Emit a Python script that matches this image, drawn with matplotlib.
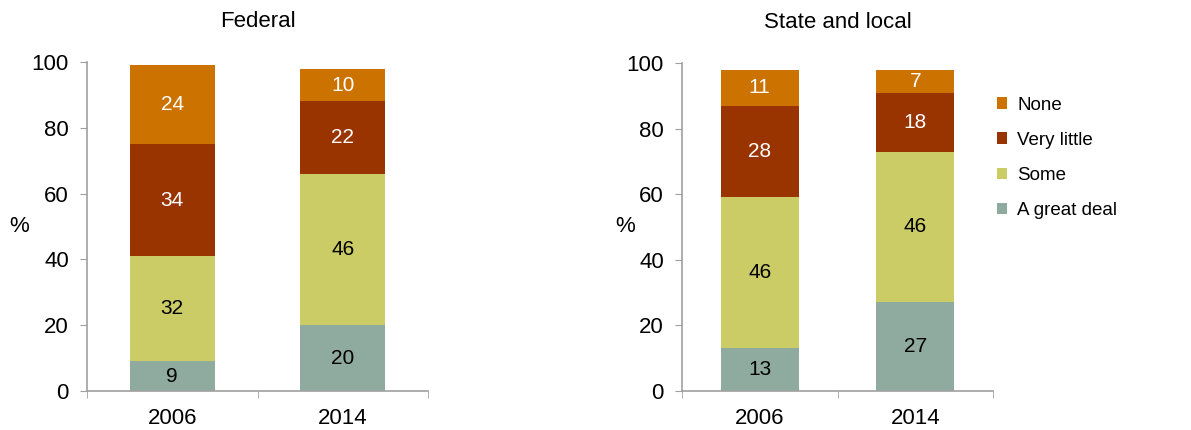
import matplotlib
matplotlib.use("Agg")
import matplotlib.pyplot as plt
import numpy as np
from matplotlib.patches import Patch

years = ["2006", "2014"]
categories = ["A great deal", "Some", "Very little", "None"]
federal = {
    "A great deal": [9, 20],
    "Some": [32, 46],
    "Very little": [34, 22],
    "None": [24, 10],
}
state_local = {
    "A great deal": [13, 27],
    "Some": [46, 46],
    "Very little": [28, 18],
    "None": [11, 7],
}
panel_titles = ["Federal", "State and local"]

colors = {
    "A great deal": "#8faa9f",
    "Some": "#cccc66",
    "Very little": "#993300",
    "None": "#cc7200",
}
text_colors = {
    "A great deal": "black",
    "Some": "black",
    "Very little": "white",
    "None": "white",
}

plt.rcParams["font.family"] = ["Liberation Sans", "DejaVu Sans"]
AXIS_COLOR = "#a0a0a0"

fig = plt.figure(figsize=(11.91, 4.30), dpi=100)
ax_l = fig.add_axes([87 / 1191, 1 - 391 / 430, 341 / 1191, 329 / 430])
ax_r = fig.add_axes([682 / 1191, 1 - 391 / 430, 311 / 1191, 328 / 430])


def draw_panel(ax, data, title, ylabelpad):
    x = np.arange(len(years))
    bottom = np.zeros(len(years))
    for cat in categories:
        vals = np.array(data[cat], dtype=float)
        ax.bar(x, vals, bottom=bottom, width=0.5, color=colors[cat],
               edgecolor="none")
        for xi, v, b in zip(x, vals, bottom):
            ax.text(xi, b + v / 2, f"{v:g}", ha="center", va="center",
                    fontsize=15, color=text_colors[cat])
        bottom += vals

    ax.set_xlim(-0.5, len(years) - 0.5)
    ax.set_ylim(0, 100)
    ax.set_yticks(range(0, 101, 20))
    ax.set_xticks(x)
    ax.set_xticklabels(years)
    ax.set_xticks(np.arange(-0.5, len(years), 1.0), minor=True)
    ax.tick_params(axis="x", which="major", length=0, labelsize=16, pad=12)
    ax.tick_params(axis="x", which="minor", length=5, color=AXIS_COLOR,
                   direction="out")
    ax.tick_params(axis="y", length=5, color=AXIS_COLOR, labelsize=16,
                   direction="out", pad=8)
    for side in ("top", "right"):
        ax.spines[side].set_visible(False)
    for side in ("left", "bottom"):
        ax.spines[side].set_color(AXIS_COLOR)
        ax.spines[side].set_linewidth(1.2)
    ax.set_ylabel("%", rotation=0, fontsize=16, labelpad=ylabelpad,
                  va="center")
    ax.set_title(title, fontsize=16, pad=25)


draw_panel(ax_l, federal, panel_titles[0], 9)
draw_panel(ax_r, state_local, panel_titles[1], 1)

handles = [Patch(facecolor=colors[c], edgecolor="none", label=c)
           for c in reversed(categories)]
fig.legend(handles=handles, loc="upper left",
           bbox_to_anchor=(989 / 1191, 1 - 89 / 430), frameon=False,
           borderaxespad=0, fontsize=13.5, handlelength=0.55,
           handleheight=0.55, handletextpad=0.55, labelspacing=0.97)

fig.savefig("out.png", dpi=100)
